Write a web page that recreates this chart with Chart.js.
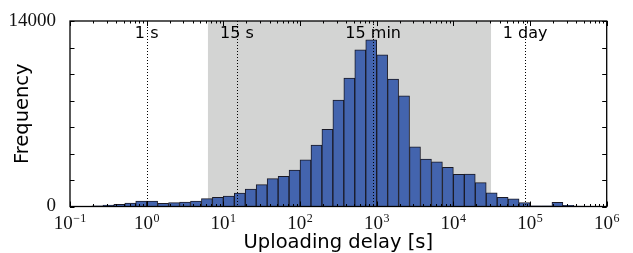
<!DOCTYPE html>
<html><head><meta charset="utf-8">
<script src="https://cdn.jsdelivr.net/npm/chart.js@4"></script>
<style>html,body{margin:0;padding:0;background:#fff}canvas{display:block}</style>
</head><body>
<canvas id="c" width="633" height="253"></canvas>
<script>
// Histogram bins: centres in log10(seconds), 7 bins per decade
const binCentersLog10 = [
  -0.9286, -0.7857, -0.6429, -0.5, -0.3571, -0.2143, -0.0714,
   0.0714,  0.2143,  0.3571,  0.5,  0.6429,  0.7857,  0.9286,
   1.0714,  1.2143,  1.3571,  1.5,  1.6429,  1.7857,  1.9286,
   2.0714,  2.2143,  2.3571,  2.5,  2.6429,  2.7857,  2.9286,
   3.0714,  3.2143,  3.3571,  3.5,  3.6429,  3.7857,  3.9286,
   4.0714,  4.2143,  4.3571,  4.5,  4.6429,  4.7857,  4.9286,
   5.0714,  5.2143,  5.3571,  5.5,  5.6429,  5.7857,  5.9286
];
const counts = [
  0, 20, 50, 100, 170, 260, 410,
  400, 240, 290, 340, 415, 590, 690,
  790, 1020, 1320, 1650, 2100, 2280, 2750,
  3530, 4640, 5830, 8040, 9690, 11820, 12570,
  11440, 9610, 8350, 4510, 3580, 3380, 2960,
  2430, 2450, 1800, 1040, 690, 570, 290,
  60, 50, 320, 90, 30, 20, 20
];
const yTickLabels = [0, 14000];
const yMinorStep = 2000;
const xTickExponents = [-1, 0, 1, 2, 3, 4, 5, 6];
const markerSeconds = [1, 15, 900, 86400];
const markerLabels = ['1 s', '15 s', '15 min', '1 day'];
const shadedSeconds = [6.3, 31000];

const SANS = '"DejaVu Sans", sans-serif';
const SERIF = '"Liberation Serif", "DejaVu Serif", serif';

const decor = {
  id: 'decor',
  beforeDatasetsDraw(chart) {
    const {ctx, chartArea: a, scales: {x}} = chart;
    const x0 = x.getPixelForValue(Math.log10(shadedSeconds[0]));
    const x1 = x.getPixelForValue(Math.log10(shadedSeconds[1]));
    ctx.save();
    ctx.fillStyle = '#d3d4d3';
    ctx.fillRect(x0, a.top, x1 - x0, a.bottom - a.top);
    ctx.restore();
  },
  afterDatasetsDraw(chart) {
    const {ctx, chartArea: a, scales: {x, y}} = chart;
    ctx.save();
    // dotted marker lines
    ctx.strokeStyle = '#000';
    ctx.lineWidth = 1;
    ctx.setLineDash([1, 2]);
    markerSeconds.forEach(s => {
      const px = Math.round(x.getPixelForValue(Math.log10(s))) + 0.5;
      ctx.beginPath(); ctx.moveTo(px, a.top); ctx.lineTo(px, a.bottom); ctx.stroke();
    });
    ctx.setLineDash([]);
    // marker labels
    ctx.fillStyle = '#000';
    ctx.font = '16px ' + SANS;
    ctx.textAlign = 'center';
    ctx.textBaseline = 'alphabetic';
    markerSeconds.forEach((s, i) => {
      ctx.fillText(markerLabels[i], x.getPixelForValue(Math.log10(s)), a.top + 17);
    });
    // tick marks (inside)
    ctx.lineWidth = 1;
    ctx.beginPath();
    const first = xTickExponents[0], last = xTickExponents[xTickExponents.length - 1];
    for (let e = first; e <= last; e++) {
      for (let m = 1; m <= 9; m++) {
        if (e === last && m > 1) break;
        const v = e + Math.log10(m);
        const px = Math.round(x.getPixelForValue(v)) + 0.5;
        const len = m === 1 ? 5 : 2.5;
        ctx.moveTo(px, a.bottom); ctx.lineTo(px, a.bottom - len);
        ctx.moveTo(px, a.top); ctx.lineTo(px, a.top + len);
      }
    }
    for (let v = yTickLabels[0]; v <= yTickLabels[1]; v += yMinorStep) {
      const py = Math.round(y.getPixelForValue(v)) + 0.5;
      ctx.moveTo(a.left, py); ctx.lineTo(a.left + 4.5, py);
      ctx.moveTo(a.right, py); ctx.lineTo(a.right - 4.5, py);
    }
    ctx.stroke();
    // frame
    ctx.lineWidth = 1.3;
    ctx.strokeRect(a.left, a.top, a.right - a.left, a.bottom - a.top);
    // x tick labels 10^n
    ctx.fillStyle = '#111';
    ctx.textAlign = 'left';
    xTickExponents.forEach(e => {
      const px = x.getPixelForValue(e);
      const base = '10';
      const exp = (e < 0 ? '\u2212' : '') + Math.abs(e);
      ctx.font = '19px ' + SERIF;
      const wb = ctx.measureText(base).width;
      ctx.font = '12px ' + SERIF;
      const we = ctx.measureText(exp).width;
      const start = px - (wb + we + 0.5) / 2;
      ctx.font = '19px ' + SERIF;
      ctx.fillText(base, start, a.bottom + 22);
      ctx.font = '12px ' + SERIF;
      ctx.fillText(exp, start + wb + 0.5, a.bottom + 15);
    });
    ctx.restore();
  }
};

new Chart(document.getElementById('c'), {
  type: 'bar',
  data: {
    datasets: [{
      data: binCentersLog10.map((c, i) => ({x: c, y: counts[i]})),
      backgroundColor: '#4364ae',
      borderColor: '#1a1a26',
      borderWidth: 1,
      barPercentage: 1,
      categoryPercentage: 1
    }]
  },
  options: {
    responsive: false,
    animation: false,
    events: [],
    layout: {padding: {top: 21, right: 26.3, left: 0, bottom: 0}},
    plugins: {legend: {display: false}, tooltip: {enabled: false}},
    scales: {
      x: {
        type: 'linear', min: -1, max: 6, offset: false,
        afterBuildTicks: s => { s.ticks = xTickExponents.map(v => ({value: v})); },
        ticks: {display: false},
        grid: {display: false},
        border: {display: false},
        afterFit: s => { s.height = 46.5; },
        title: {display: true, text: 'Uploading delay [s]', color: '#000',
          font: {family: SANS, size: 19.5, lineHeight: 1}, padding: {top: 0, bottom: 0}}
      },
      y: {
        min: 0, max: 14000,
        afterBuildTicks: s => { s.ticks = yTickLabels.map(v => ({value: v})); },
        ticks: {font: {family: SERIF, size: 19}, color: '#111', padding: 6, autoSkip: false,
          callback: v => String(v)},
        grid: {display: false},
        border: {display: false},
        afterFit: s => { s.width = 70; },
        title: {display: true, text: 'Frequency', color: '#000',
          font: {family: SANS, size: 19.5, lineHeight: 1}, padding: {top: 13, bottom: 0}}
      }
    }
  },
  plugins: [decor]
});
</script>
</body></html>
